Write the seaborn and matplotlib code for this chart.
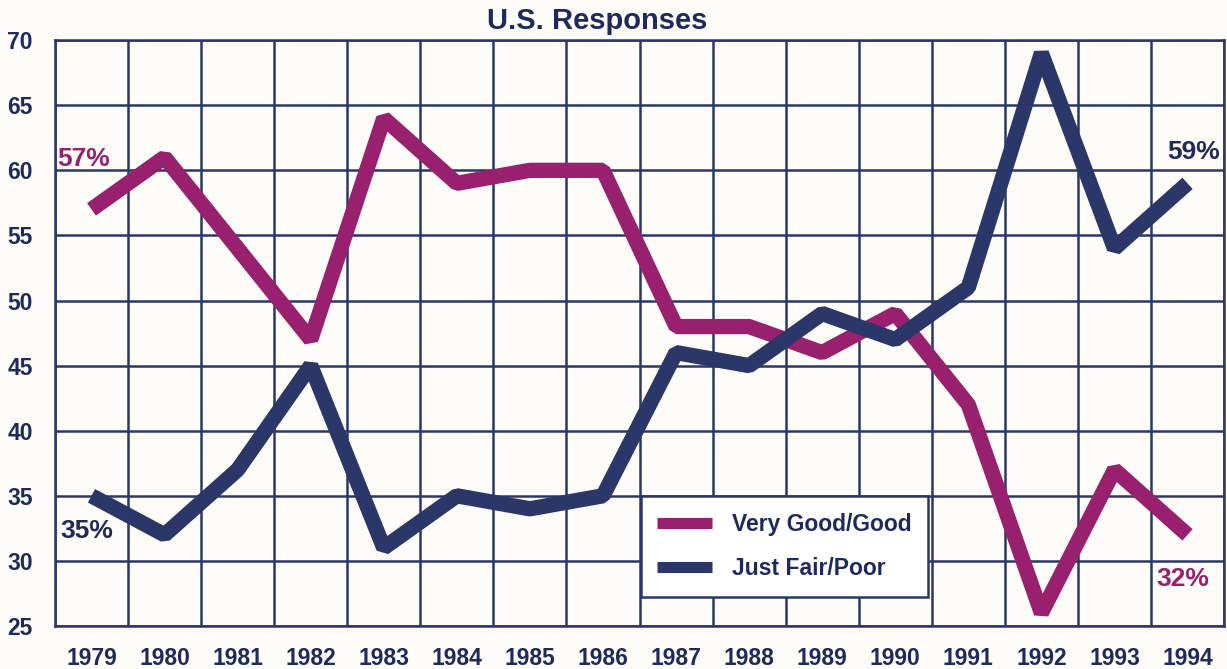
import numpy as np
import pandas as pd
import seaborn as sns
import matplotlib.pyplot as plt

years = list(range(1979, 1995))
very_good = [57, 61, 54, 47, 64, 59, 60, 60, 48, 48, 46, 49, 42, 26, 37, 32]
just_fair = [35, 32, 37, 45, 31, 35, 34, 35, 46, 45, 49, 47, 51, 69, 54, 59]
series_names = ["Very Good/Good", "Just Fair/Poor"]

magenta = "#98206f"
navy = "#2a3768"
ink = "#1f2a5c"

df = pd.DataFrame({
    "year": years * 2,
    "pct": very_good + just_fair,
    "series": [series_names[0]] * len(years) + [series_names[1]] * len(years),
})

sns.set_style("white")
plt.rcParams["font.family"] = ["Liberation Sans", "DejaVu Sans"]
plt.rcParams["font.weight"] = "bold"

fig = plt.figure(figsize=(12.27, 6.69), dpi=100, facecolor="#fdfcf8")
ax = fig.add_axes([0.0448, 0.0643, 0.9528, 0.8757])
ax.set_facecolor("#fdfcf8")

sns.lineplot(data=df, x="year", y="pct", hue="series",
             palette=[magenta, navy], linewidth=11,
             solid_capstyle="butt", solid_joinstyle="bevel",
             ax=ax, zorder=3)

ax.set_xlim(1978.5, 1994.5)
ax.set_ylim(25, 70)

# grid lines sit between the years, labels sit at the years
ax.set_xticks(np.arange(1978.5, 1995, 1))
ax.set_xticklabels([])
ax.set_xticks(years, minor=True)
ax.set_xticklabels([str(y) for y in years], minor=True)
ax.set_yticks(range(25, 71, 5))
ax.tick_params(axis="x", which="major", length=12, width=2, color=navy, direction="out")
ax.tick_params(axis="x", which="minor", length=0, pad=15, labelsize=16.5, labelcolor=ink)
ax.tick_params(axis="y", length=14, width=2, color=navy, labelsize=16.5,
               labelcolor=ink, pad=2)
for lab in ax.get_xticklabels(minor=True) + ax.get_yticklabels():
    lab.set_fontweight("bold")

ax.grid(True, which="major", color=navy, linewidth=1.8)
for s in ax.spines.values():
    s.set_color(navy)
    s.set_linewidth(1.8)

ax.set_xlabel("")
ax.set_ylabel("")

ax.set_title("U.S. Responses", x=0.464, pad=8, fontsize=21,
             fontweight="bold", color=ink)

ax.text(1978.53, very_good[0] + 3.9, f"{very_good[0]}%", color=magenta,
        fontsize=19, fontweight="bold", ha="left", va="center")
ax.text(1978.57, just_fair[0] - 2.7, f"{just_fair[0]}%", color=ink,
        fontsize=19, fontweight="bold", ha="left", va="center")
ax.text(1994.45, just_fair[-1] + 2.4, f"{just_fair[-1]}%", color=ink,
        fontsize=19, fontweight="bold", ha="right", va="center")
ax.text(1994.3, very_good[-1] - 3.4, f"{very_good[-1]}%", color=magenta,
        fontsize=19, fontweight="bold", ha="right", va="center")

leg = ax.legend(loc="lower left", bbox_to_anchor=(0.501, 0.0495),
                borderaxespad=0, fancybox=False, framealpha=1,
                edgecolor=navy, facecolor="white", fontsize=16.5,
                handlelength=2.4, handletextpad=0.85, labelspacing=0.95,
                borderpad=0.72, title=None)
leg.get_frame().set_linewidth(1.8)
leg.set_zorder(5)
for t in leg.get_texts():
    t.set_color(ink)
    t.set_fontweight("bold")
for h in leg.get_lines():
    h.set_linewidth(8)
    h.set_solid_capstyle("butt")

fig.savefig("out.png", dpi=100, facecolor=fig.get_facecolor())
